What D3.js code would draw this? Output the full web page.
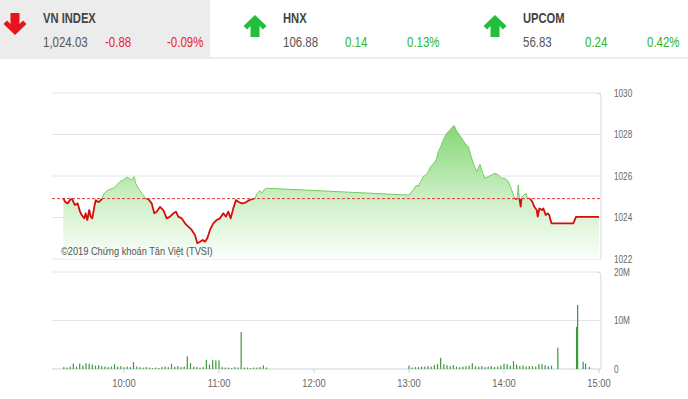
<!DOCTYPE html>
<html>
<head>
<meta charset="utf-8">
<script src="https://cdn.jsdelivr.net/npm/d3@7"></script>
<style>
    body { margin: 0; background: #fff; }
    svg { display: block; font-family: "Liberation Sans", Arial, sans-serif; }
</style>
</head>
<body>
<svg id="chart" width="688" height="399"></svg>
<script>
"use strict";

// header board
const indexNames = ["VN INDEX", "HNX", "UPCOM"];
const indexValues = ["1,024.03", "106.88", "56.83"];
const indexChanges = ["-0.88", "0.14", "0.24"];
const indexPercents = ["-0.09%", "0.13%", "0.42%"];

// intraday VN-Index
const refPrice = 1024.91;
const priceTimes = [
    "09:21:40", "09:22:44", "09:24:26", "09:25:54", "09:26:58", "09:27:59", "09:29:03", "09:30:45",
    "09:32:13", "09:33:17", "09:34:56", "09:35:49", "09:36:49", "09:38:05", "09:38:58", "09:39:59",
    "09:41:15", "09:42:08", "09:43:23", "09:44:24", "09:45:55", "09:47:33", "09:50:05", "09:53:14",
    "09:55:23", "09:57:28", "09:59:34", "10:01:43", "10:03:09", "10:04:52", "10:06:19", "10:07:23",
    "10:09:02", "10:11:11", "10:13:43", "10:15:21", "10:17:30", "10:19:08", "10:20:39", "10:22:44",
    "10:24:49", "10:26:58", "10:29:03", "10:31:08", "10:32:50", "10:34:17", "10:36:26", "10:38:32",
    "10:40:37", "10:42:46", "10:44:50", "10:46:17", "10:48:00", "10:49:43", "10:51:09", "10:52:37",
    "10:54:19", "10:56:24", "10:58:33", "11:00:38", "11:02:43", "11:04:25", "11:05:52", "11:07:23",
    "11:09:02", "11:10:44", "11:12:11", "11:14:20", "11:16:25", "11:18:30", "11:20:39", "11:22:44",
    "11:24:11", "11:25:54", "11:26:58", "11:28:25", "11:30:00",
    "13:00:00", "13:02:43", "13:04:52", "13:05:52", "13:07:23", "13:09:02", "13:10:44", "13:12:11",
    "13:13:43", "13:14:58", "13:16:25", "13:17:29", "13:18:30", "13:20:01", "13:21:40", "13:23:49",
    "13:25:53", "13:27:36", "13:28:37", "13:29:41", "13:31:08", "13:33:17", "13:35:22", "13:37:27",
    "13:38:58", "13:40:37", "13:42:46", "13:44:50", "13:46:33", "13:48:00", "13:50:05", "13:52:14",
    "13:54:19", "13:56:24", "13:58:33", "14:00:38", "14:02:43", "14:04:52", "14:06:19", "14:07:35",
    "14:08:24", "14:09:02", "14:09:40", "14:10:33", "14:11:11", "14:12:38", "14:13:53", "14:14:43",
    "14:16:25", "14:17:52", "14:19:08", "14:20:39", "14:21:17", "14:22:18", "14:23:49", "14:24:49",
    "14:26:20", "14:27:36", "14:28:37", "14:29:03", "14:30:00", "14:43:45", "14:45:30", "15:00:00"
];
const priceValues = [
    1024.93, 1024.76, 1024.68, 1024.84, 1024.93, 1024.76, 1024.60, 1024.68,
    1024.28, 1024.12, 1023.96, 1024.20, 1023.88, 1024.36, 1024.04, 1023.96,
    1024.52, 1024.84, 1024.76, 1024.76, 1024.88, 1025.17, 1025.33, 1025.41,
    1025.57, 1025.73, 1025.81, 1025.94, 1025.89, 1025.81, 1025.97, 1025.65,
    1025.41, 1025.17, 1024.93, 1024.88, 1024.68, 1024.20, 1024.28, 1024.51,
    1024.36, 1023.96, 1024.04, 1024.20, 1024.28, 1024.04, 1023.96, 1023.72,
    1023.56, 1023.40, 1023.16, 1022.76, 1022.83, 1022.92, 1022.83, 1023.00,
    1023.40, 1023.72, 1023.88, 1023.96, 1024.20, 1024.04, 1024.28, 1023.96,
    1024.44, 1024.84, 1024.76, 1024.68, 1024.71, 1024.81, 1024.88, 1024.93,
    1025.17, 1025.29, 1025.17, 1025.33, 1025.41,
    1025.08, 1025.33, 1025.57, 1025.48, 1025.73, 1025.97, 1026.05, 1026.21,
    1026.45, 1026.56, 1026.69, 1026.85, 1027.17, 1027.41, 1027.73, 1028.06,
    1028.22, 1028.38, 1028.42, 1028.22, 1028.06, 1027.82, 1027.58, 1027.41,
    1027.01, 1026.61, 1026.21, 1026.56, 1026.13, 1025.89, 1025.97, 1026.05,
    1026.13, 1026.05, 1025.89, 1025.89, 1025.73, 1025.33, 1025.00, 1024.89,
    1025.00, 1025.57, 1024.93, 1024.52, 1025.00, 1025.08, 1025.17, 1024.95,
    1024.93, 1024.76, 1024.52, 1024.36, 1024.04, 1024.44, 1024.36, 1024.44,
    1024.12, 1024.20, 1024.12, 1023.96, 1023.72, 1023.72, 1024.03, 1024.03
];

// matched volume (millions), one bar per 2 minutes
const morningVolumeStart = "09:22:00";
const morningVolume = [
    0.4, 0.3, 0.5, 1.1, 0.5, 1.1, 0.7, 1.2, 1.1, 0.9, 0.7, 0.8, 0.6, 0.5, 0.4, 0.5,
    1.0, 0.5, 0.6, 0.4, 0.5, 0.4, 1.4, 0.5, 0.4, 0.3, 0.4, 0.3, 0.2, 0.3, 0.2, 0.4,
    0.5, 0.4, 1.1, 0.5, 0.6, 0.4, 0.5, 2.6, 1.2, 0.5, 0.4, 0.3, 0.4, 1.9, 0.9, 1.9,
    1.8, 1.8, 0.4, 0.3, 0.3, 0.2, 0.4, 0.3, 7.6, 0.3, 0.3, 0.2, 0.3, 0.3, 0.4, 0.75,
    0.3
];
const afternoonVolumeStart = "13:00:00";
const afternoonVolume = [
    0.7, 0.3, 0.4, 0.4, 0.5, 0.5, 0.6, 0.5, 0.8, 1.0, 2.3, 1.0, 0.8, 0.6, 0.8, 0.5,
    0.4, 0.5, 0.6, 0.7, 1.2, 0.6, 0.5, 0.6, 0.4, 0.5, 0.6, 0.4, 0.5, 0.7, 1.1, 1.0,
    0.7, 1.6, 0.9, 0.6, 0.7, 0.5, 0.6, 0.6, 0.5, 1.0, 1.0, 0.8, 0.6, 0.7
];
const lateVolumeTimes = ["14:34:00", "14:45:50", "14:46:30", "14:50:00", "14:51:30", "14:54:00"];
const lateVolume = [4.4, 8.7, 13.2, 1.5, 1.1, 0.4];

// axes
const timeTicks = ["10:00", "11:00", "12:00", "13:00", "14:00", "15:00"];
const priceTicks = [1022, 1024, 1026, 1028, 1030];
const volumeTicks = [0, 10, 20];
const volumeTickLabels = ["0", "10M", "20M"];

const parseTime = d3.timeParse("%H:%M:%S");
const parseTick = d3.timeParse("%H:%M");
const STEP = 2 * 60 * 1000;

const svg = d3.select("#chart");
const defs = svg.append("defs");

// ---------- header ----------
const RED = "#e5262b", GREEN = "#2fb52f", ARROW_GREEN = "#22c03a";

/** draws narrow text by squeezing a regular face */
function narrowText(g, x, y, text, sx) {
    return g.append("text")
        .attr("transform", `translate(${x},${y}) scale(${sx},1)`)
        .text(text);
}

svg.append("rect")
    .attr("x", 0).attr("y", 0).attr("width", 210).attr("height", 57)
    .attr("fill", "#ececec");
svg.append("line")
    .attr("x1", 0).attr("x2", 688).attr("y1", 58).attr("y2", 58)
    .attr("stroke", "#e6e6e6").attr("stroke-width", 1.5);

const arrowPath = "M0,-11L11.5,0L8,3.5L4.5,0L4.5,11L-4.5,11L-4.5,0L-8,3.5L-11.5,0Z";

indexNames.forEach((name, i) => {
    const x0 = 43 + i * 240;
    const down = indexChanges[i].startsWith("-");
    const col = down ? RED : GREEN;
    const g = svg.append("g").attr("class", "board");

    g.append("path")
        .attr("d", arrowPath)
        .attr("fill", down ? "#e8141c" : ARROW_GREEN)
        .attr("transform", `translate(${x0 - 28},${down ? 24 : 26}) scale(1,${down ? -1 : 1})`);

    narrowText(g, x0, 22.5, name, 0.8)
        .attr("font-size", 14).attr("font-weight", "bold").attr("fill", "#444");
    narrowText(g, x0, 47, indexValues[i], 0.82)
        .attr("font-size", 14).attr("fill", "#555");
    narrowText(g, x0 + 62, 47, indexChanges[i], 0.82)
        .attr("font-size", 14).attr("fill", col);
    narrowText(g, x0 + 124, 47, indexPercents[i], 0.82)
        .attr("font-size", 14).attr("fill", col);
});

// ---------- scales ----------
const x = d3.scaleTime()
    .domain([parseTick("10:00"), parseTick("15:00")])
    .range([124, 599]);
const y = d3.scaleLinear().domain([1022, 1030]).range([259, 93]);
const yVol = d3.scaleLinear().domain([0, 20]).range([369, 272]);

const left = 52, right = 601;
const GRID = "#e1e4e8";

// ---------- price panel ----------
const pricePanel = svg.append("g").attr("class", "price");

pricePanel.append("g")
    .selectAll("line")
    .data(priceTicks)
    .join("line")
    .attr("x1", left).attr("x2", right)
    .attr("y1", d => y(d)).attr("y2", d => y(d))
    .attr("stroke", GRID);
pricePanel.append("path")
    .attr("d", `M${right - 4},${y(1030)}Q${right},${y(1030)} ${right},${y(1030) + 4}V${y(1022)}`)
    .attr("fill", "none").attr("stroke", "#d3dbe3");

const series = priceTimes.map((t, i) => ({ t: parseTime(t), v: priceValues[i] }));
const yRef = y(refPrice);

const fill = defs.append("linearGradient")
    .attr("id", "priceFill")
    .attr("gradientUnits", "userSpaceOnUse")
    .attr("x1", 0).attr("x2", 0)
    .attr("y1", y(1028.5)).attr("y2", y(1022));
fill.append("stop").attr("offset", 0).attr("stop-color", "#84d673");
fill.append("stop").attr("offset", 0.55).attr("stop-color", "#cdeFc6");
fill.append("stop").attr("offset", 1).attr("stop-color", "#fbfefb");

const area = d3.area()
    .x(d => x(d.t))
    .y0(y(1022))
    .y1(d => y(d.v));
const line = d3.line()
    .x(d => x(d.t))
    .y(d => y(d.v));

pricePanel.append("path")
    .datum(series)
    .attr("d", area)
    .attr("fill", "url(#priceFill)");

// white gap between the red line and the reference level
const gap = d3.area()
    .x(d => x(d.t))
    .y0(yRef)
    .y1(d => Math.max(y(d.v), yRef));
defs.append("clipPath").attr("id", "aboveRef")
    .append("rect").attr("x", 0).attr("y", 0).attr("width", 688).attr("height", yRef);
defs.append("clipPath").attr("id", "belowRef")
    .append("rect").attr("x", 0).attr("y", yRef).attr("width", 688).attr("height", 399 - yRef);

pricePanel.append("path")
    .datum(series)
    .attr("d", gap)
    .attr("fill", "#fff");

pricePanel.append("line")
    .attr("x1", left).attr("x2", right)
    .attr("y1", yRef).attr("y2", yRef)
    .attr("stroke", "#e03a3a")
    .attr("stroke-dasharray", "3,2");

pricePanel.append("path")
    .datum(series)
    .attr("d", line)
    .attr("clip-path", "url(#aboveRef)")
    .attr("fill", "none")
    .attr("stroke", "#72cc62")
    .attr("stroke-width", 1);
pricePanel.append("path")
    .datum(series)
    .attr("d", line)
    .attr("clip-path", "url(#belowRef)")
    .attr("fill", "none")
    .attr("stroke", "#d40d0d")
    .attr("stroke-width", 1.8)
    .attr("stroke-linejoin", "round");

narrowText(pricePanel, 61, 255, "©2019 Chứng khoán Tân Việt (TVSI)", 0.88)
    .attr("font-size", 10.5).attr("fill", "#555");

pricePanel.append("g")
    .selectAll("text")
    .data(priceTicks)
    .join("text")
    .attr("transform", d => `translate(614,${y(d)}) scale(0.82,1)`)
    .attr("dy", "0.35em")
    .attr("font-size", 10)
    .attr("fill", "#666")
    .text(d => d);

// ---------- volume panel ----------
const volPanel = svg.append("g").attr("class", "volume");

volPanel.append("g")
    .selectAll("line")
    .data(volumeTicks)
    .join("line")
    .attr("x1", left).attr("x2", right)
    .attr("y1", d => yVol(d)).attr("y2", d => yVol(d))
    .attr("stroke", d => d === 0 ? "#c9d2dc" : GRID);
volPanel.append("path")
    .attr("d", `M${right - 4},${yVol(20)}Q${right},${yVol(20)} ${right},${yVol(20) + 4}V${yVol(0)}`)
    .attr("fill", "none").attr("stroke", "#d3dbe3");

const bars = [
    ...morningVolume.map((v, i) => ({ t: new Date(+parseTime(morningVolumeStart) + i * STEP), v })),
    ...afternoonVolume.map((v, i) => ({ t: new Date(+parseTime(afternoonVolumeStart) + i * STEP), v })),
    ...lateVolume.map((v, i) => ({ t: parseTime(lateVolumeTimes[i]), v })),
];

volPanel.append("g")
    .selectAll("rect")
    .data(bars)
    .join("rect")
    .attr("x", d => x(d.t) - 0.6)
    .attr("width", 1.2)
    .attr("y", d => yVol(d.v))
    .attr("height", d => yVol(0) - yVol(d.v))
    .attr("fill", "#3a9a3a");

volPanel.append("g")
    .selectAll("text")
    .data(volumeTicks)
    .join("text")
    .attr("transform", d => `translate(614,${yVol(d)}) scale(0.82,1)`)
    .attr("dy", "0.35em")
    .attr("font-size", 10)
    .attr("fill", "#666")
    .text((d, i) => volumeTickLabels[i]);

// time axis
const timeAxis = svg.append("g").attr("class", "time-axis");
timeAxis.selectAll("line")
    .data(timeTicks)
    .join("line")
    .attr("x1", d => x(parseTick(d))).attr("x2", d => x(parseTick(d)))
    .attr("y1", yVol(0)).attr("y2", yVol(0) + 4)
    .attr("stroke", "#c9d2dc");
timeAxis.selectAll("text")
    .data(timeTicks)
    .join("text")
    .attr("transform", d => `translate(${x(parseTick(d))},386.5) scale(0.85,1)`)
    .attr("text-anchor", "middle")
    .attr("font-size", 11)
    .attr("fill", "#666")
    .text(d => d);
</script>
</body>
</html>
